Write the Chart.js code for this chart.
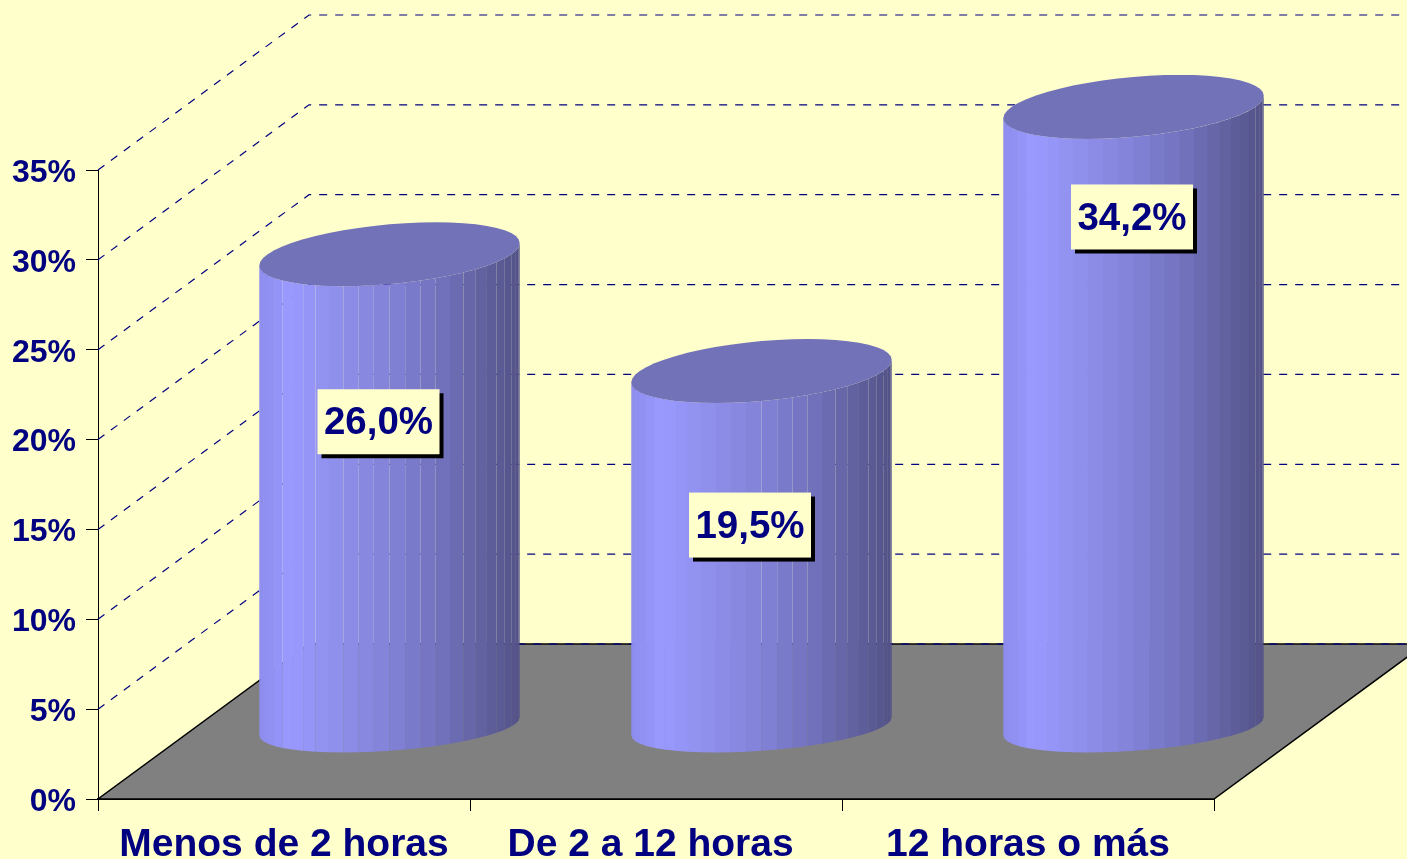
<!DOCTYPE html>
<html>
<head>
<meta charset="utf-8">
<title>Chart</title>
<script src="https://cdn.jsdelivr.net/npm/chart.js@4/dist/chart.umd.min.js"></script>
<style>
  html, body { margin: 0; padding: 0; background: #FFFFCC; overflow: hidden; }
  canvas { display: block; }
</style>
</head>
<body>
<canvas id="chart" width="1407" height="859"></canvas>
<script>
// trailing space on the middle label: it sits a little left of its tick in the original
const categories = ['Menos de 2 horas', 'De 2 a 12 horas ', '12 horas o más'];
const values = [26.0, 19.5, 34.2];
const valueLabels = ['26,0%', '19,5%', '34,2%'];

const NAVY = '#000080';
const FONT = '"Liberation Sans", Arial, sans-serif';

// 3D box depth, in pixels
const DEPTH_X = 211;
const DEPTH_Y = 155;
const FACETS = 26;

// label box offset from the bar top, hand placed in the original
const labelOffsets = [[94.5, 90], [94, 76.5], [104, 32.6]];
// facets from this fraction of the width on show hairline seams, as in the original
const seamFrom = [0.05, 0.45, 0.95];

const shadeStops = [
    [0, [140, 140, 238]],
    [0.12, [153, 153, 255]],
    [0.3, [143, 143, 235]],
    [0.5, [130, 130, 216]],
    [0.7, [112, 112, 188]],
    [0.85, [98, 98, 160]],
    [1, [82, 82, 136]]
];

function shade(u) {
    for (let i = 1; i < shadeStops.length; i++) {
        const [u1, c1] = shadeStops[i];
        const [u0, c0] = shadeStops[i - 1];
        if (u <= u1) {
            const k = (u - u0) / (u1 - u0);
            return 'rgb(' + c0.map((c, j) => Math.round(c + (c1[j] - c) * k)).join(',') + ')';
        }
    }
    return 'rgb(82,82,136)';
}

const wallsPlugin = {
    id: 'walls',
    beforeDatasetsDraw(chart) {
        const ctx = chart.ctx;
        const { left, right } = chart.chartArea;
        const yScale = chart.scales.y;
        const zero = yScale.getPixelForValue(0);

        // floor
        ctx.save();
        ctx.fillStyle = '#808080';
        ctx.strokeStyle = '#000';
        ctx.lineWidth = 1.5;
        ctx.beginPath();
        ctx.moveTo(left, zero);
        ctx.lineTo(right, zero);
        ctx.lineTo(right + DEPTH_X, zero - DEPTH_Y);
        ctx.lineTo(left + DEPTH_X, zero - DEPTH_Y);
        ctx.closePath();
        ctx.fill();
        ctx.stroke();

        // dashed grid on the two walls
        ctx.strokeStyle = NAVY;
        ctx.lineWidth = 1.2;
        ctx.setLineDash([8, 8]);
        yScale.ticks.forEach(t => {
            const y = yScale.getPixelForValue(t.value);
            ctx.beginPath();
            if (t.value > 0) {
                ctx.moveTo(left, y);
                ctx.lineTo(left + DEPTH_X, y - DEPTH_Y);
            } else {
                ctx.moveTo(left + DEPTH_X, y - DEPTH_Y);
            }
            ctx.lineTo(right + DEPTH_X, y - DEPTH_Y);
            ctx.stroke();
        });
        ctx.restore();
    }
};

const cylinderPlugin = {
    id: 'cylinders',
    afterDatasetsDraw(chart) {
        const ctx = chart.ctx;
        const bars = chart.getDatasetMeta(0).data;

        bars.forEach((bar, i) => {
            const r = bar.width / 2;
            const skew = 46;
            const ax = Math.sqrt(r * r - skew * skew);
            const phi = Math.atan2(skew, ax);
            const cx = bar.x + DEPTH_X / 2;
            const topY = bar.y - DEPTH_Y / 2;
            const baseY = bar.base - DEPTH_Y / 2 + 5.5;
            const px = t => cx + ax * Math.cos(t) + skew * Math.sin(t);
            const py = (t, cy, h) => cy - h * Math.sin(t);

            // side wall, one flat strip per facet
            for (let k = 0; k < FACETS; k++) {
                const t0 = Math.PI + phi + Math.PI * k / FACETS;
                const t1 = Math.PI + phi + Math.PI * (k + 1) / FACETS;
                const u = ((px(t0) + px(t1)) / 2 - (cx - r)) / (2 * r);
                const overlap = (u >= seamFrom[i] || k === FACETS - 1) ? 0 : 0.6;
                ctx.fillStyle = shade(u);
                ctx.beginPath();
                ctx.moveTo(px(t0), py(t0, topY, 32));
                ctx.lineTo(px(t1) + overlap, py(t1, topY, 32));
                ctx.lineTo(px(t1) + overlap, py(t1, baseY, 26));
                ctx.lineTo(px(t0), py(t0, baseY, 26));
                ctx.closePath();
                ctx.fill();
            }

            // top cap
            ctx.fillStyle = '#7272B9';
            ctx.beginPath();
            for (let k = 0; k < FACETS * 2; k++) {
                const t = phi + Math.PI * k / FACETS;
                ctx.lineTo(px(t), py(t, topY, 32));
            }
            ctx.closePath();
            ctx.fill();

            // value label with hard shadow
            const lx = bar.x + labelOffsets[i][0];
            const ly = bar.y + labelOffsets[i][1];
            const w = 122;
            const h = 65;
            ctx.fillStyle = '#000';
            ctx.fillRect(lx - w / 2 + 4, ly - h / 2 + 4, w, h);
            ctx.fillStyle = '#FFFFCC';
            ctx.fillRect(lx - w / 2, ly - h / 2, w, h);
            ctx.fillStyle = NAVY;
            ctx.font = 'bold 38.5px ' + FONT;
            ctx.textAlign = 'center';
            ctx.textBaseline = 'middle';
            ctx.fillText(valueLabels[i], lx, ly + 2);
        });
    }
};

new Chart(document.getElementById('chart'), {
    type: 'bar',
    data: {
        labels: categories,
        datasets: [{
            data: values,
            backgroundColor: 'transparent',
            barPercentage: 0.7,
            categoryPercentage: 1
        }]
    },
    plugins: [wallsPlugin, cylinderPlugin],
    options: {
        responsive: false,
        animation: false,
        layout: { padding: { top: 170, right: 193, left: 0, bottom: 0 } },
        plugins: {
            legend: { display: false },
            tooltip: { enabled: false }
        },
        scales: {
            x: {
                z: 1,
                afterFit: s => { s.height = 60; },
                border: { color: '#000', width: 2 },
                grid: { drawOnChartArea: false, color: '#000', tickLength: 12, tickColor: '#000' },
                ticks: {
                    color: NAVY,
                    maxRotation: 0,
                    padding: 11,
                    font: { family: FONT, size: 39, weight: 'bold' }
                }
            },
            y: {
                z: 1,
                min: 0,
                max: 35,
                afterFit: s => { s.width = 98; },
                border: { color: '#000', width: 1 },
                grid: { drawOnChartArea: false, tickLength: 12, tickColor: '#000' },
                ticks: {
                    stepSize: 5,
                    color: NAVY,
                    padding: 10,
                    labelOffset: 3,
                    font: { family: FONT, size: 32, weight: 'bold' },
                    callback: v => v + '%'
                }
            }
        }
    }
});
</script>
</body>
</html>
